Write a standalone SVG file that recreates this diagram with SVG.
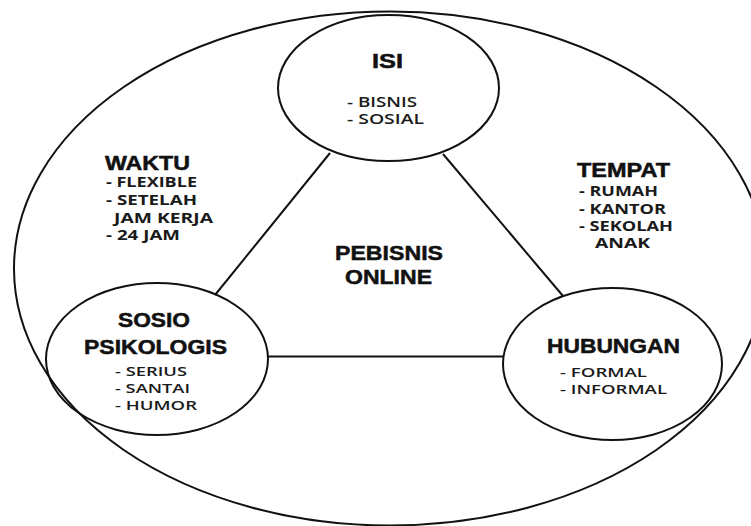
<svg xmlns="http://www.w3.org/2000/svg" width="751" height="526" viewBox="0 0 751 526">
<style>
.shape{fill:none;stroke:#111;stroke-width:2}
.conn{stroke:#111;stroke-width:2;fill:none}
.title{font-family:"Liberation Sans",Arial,sans-serif;font-weight:700;font-size:20px;fill:#111;stroke:#111;stroke-width:0.5}
.item{font-family:"Open Sans","Liberation Sans",sans-serif;font-weight:600;font-size:13.5px;fill:#1a1a1a}
.item2{font-family:"Open Sans","Liberation Sans",sans-serif;font-weight:700;font-size:13.5px;fill:#1a1a1a}
.tight{font-size:13px}
</style>
<rect width="751" height="526" fill="#fff"/>
<g id="frame">
<ellipse class="shape" cx="390" cy="268.5" rx="376" ry="257"/>
</g>
<g id="connectors">
<line class="conn" x1="330" y1="153" x2="215" y2="295"/>
<line class="conn" x1="443" y1="154" x2="563" y2="296"/>
<line class="conn" x1="268" y1="356.5" x2="503" y2="356.5"/>
</g>
<g id="node-isi">
<ellipse class="shape" cx="388.5" cy="88" rx="110.5" ry="73"/>
<text class="title" x="372" y="68" textLength="31" lengthAdjust="spacingAndGlyphs">ISI</text>
<text class="item" x="347" y="107" textLength="70" lengthAdjust="spacingAndGlyphs">- BISNIS</text>
<text class="item" x="347" y="124" textLength="77" lengthAdjust="spacingAndGlyphs">- SOSIAL</text>
</g>
<g id="node-sosio">
<ellipse class="shape" cx="157" cy="359" rx="111" ry="76"/>
<text class="title" x="118" y="327" textLength="72" lengthAdjust="spacingAndGlyphs">SOSIO</text>
<text class="title" x="84" y="354" textLength="143" lengthAdjust="spacingAndGlyphs">PSIKOLOGIS</text>
<text class="item tight" x="115" y="376" textLength="72" lengthAdjust="spacingAndGlyphs">- SERIUS</text>
<text class="item tight" x="115" y="393" textLength="75" lengthAdjust="spacingAndGlyphs">- SANTAI</text>
<text class="item tight" x="115" y="410" textLength="82" lengthAdjust="spacingAndGlyphs">- HUMOR</text>
</g>
<g id="node-hubungan">
<ellipse class="shape" cx="612.5" cy="364" rx="109.5" ry="76"/>
<text class="title" x="547" y="353" textLength="133" lengthAdjust="spacingAndGlyphs">HUBUNGAN</text>
<text class="item tight" x="560" y="376.5" textLength="87" lengthAdjust="spacingAndGlyphs">- FORMAL</text>
<text class="item tight" x="560" y="393.5" textLength="107" lengthAdjust="spacingAndGlyphs">- INFORMAL</text>
</g>
<g id="label-waktu">
<text class="title" x="105" y="170" textLength="85" lengthAdjust="spacingAndGlyphs">WAKTU</text>
<text class="item2" x="106" y="187" textLength="91" lengthAdjust="spacingAndGlyphs">- FLEXIBLE</text>
<text class="item2" x="106" y="205" textLength="91" lengthAdjust="spacingAndGlyphs">- SETELAH</text>
<text class="item2" x="114" y="223" textLength="99" lengthAdjust="spacingAndGlyphs">JAM KERJA</text>
<text class="item2" x="106" y="240" textLength="74" lengthAdjust="spacingAndGlyphs">- 24 JAM</text>
</g>
<g id="label-tempat">
<text class="title" x="577" y="177" textLength="93" lengthAdjust="spacingAndGlyphs">TEMPAT</text>
<text class="item2" x="579" y="196" textLength="79" lengthAdjust="spacingAndGlyphs">- RUMAH</text>
<text class="item2" x="579" y="214" textLength="87" lengthAdjust="spacingAndGlyphs">- KANTOR</text>
<text class="item2" x="579" y="231" textLength="94" lengthAdjust="spacingAndGlyphs">- SEKOLAH</text>
<text class="item2" x="595" y="248" textLength="55" lengthAdjust="spacingAndGlyphs">ANAK</text>
</g>
<g id="label-center">
<text class="title" x="335" y="260" textLength="108" lengthAdjust="spacingAndGlyphs">PEBISNIS</text>
<text class="title" x="345" y="284" textLength="87" lengthAdjust="spacingAndGlyphs">ONLINE</text>
</g>
</svg>
